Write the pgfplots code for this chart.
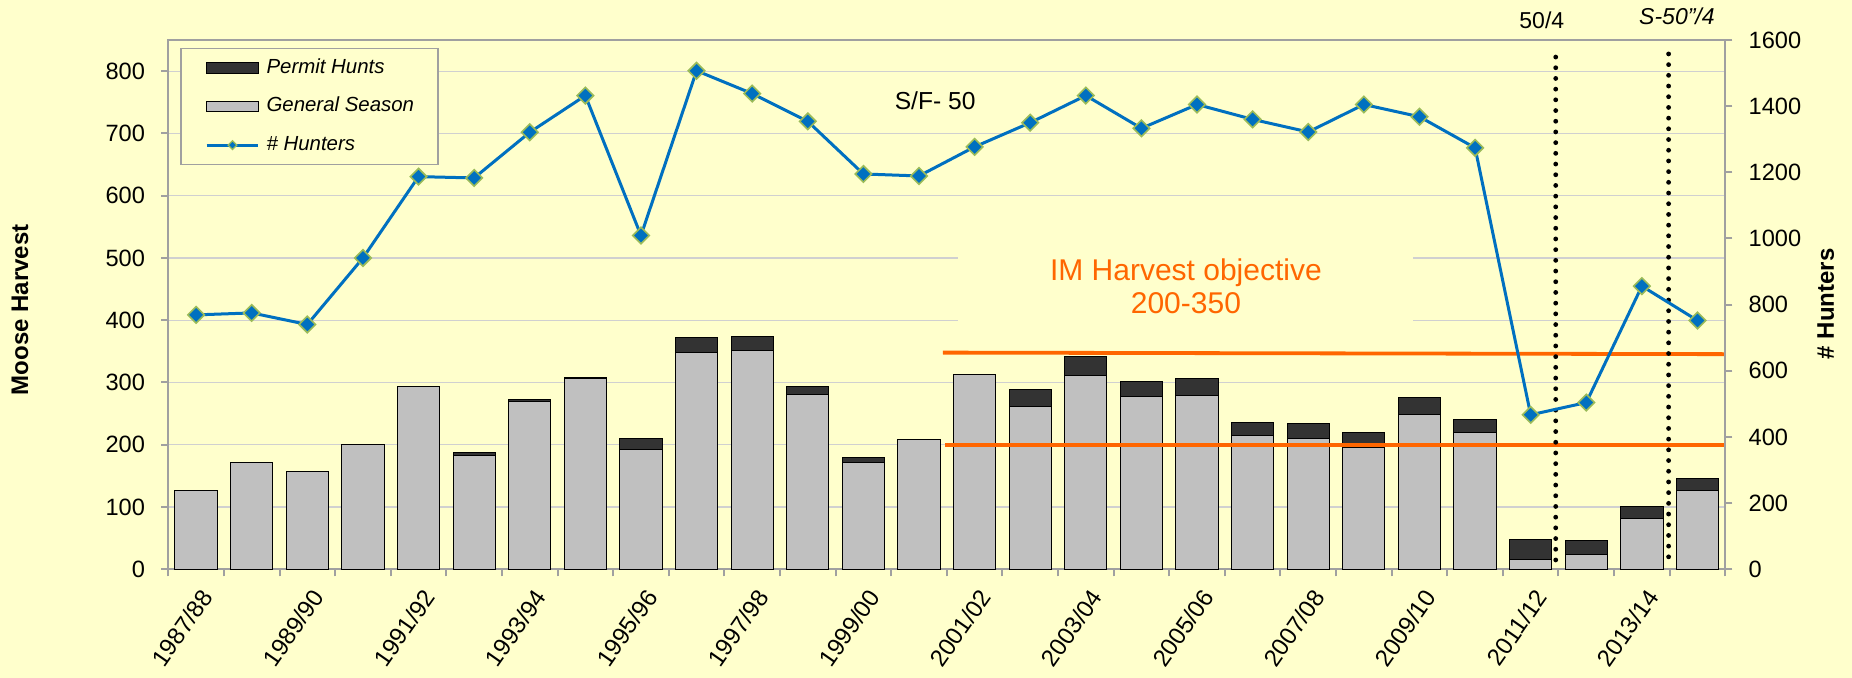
\documentclass[border=0pt]{standalone}
\usepackage{fontspec}
\setmainfont{Liberation Sans}
\usepackage{pgfplots}
\pgfplotsset{compat=1.18}
\usepackage{pgfplotstable}
\definecolor{bgy}{HTML}{FFFFCC}
\definecolor{bargray}{HTML}{C0C0C0}
\definecolor{bardark}{HTML}{333333}
\definecolor{lineblue}{HTML}{0070C0}
\definecolor{mkedge}{HTML}{9BBB59}
\definecolor{objorange}{HTML}{FF6600}
\definecolor{axgray}{HTML}{A0A0A0}
\definecolor{gridgray}{HTML}{D0D0D0}

\pgfplotstableread{
idx general permit hunters
0  127 0  769
1  171 0  775
2  157 0  740
3  201 0  941
4  294 0  1187
5  183 4  1183
6  269 3  1321
7  306 2  1432
8  192 18 1009
9  348 24 1507
10 351 23 1438
11 280 13 1354
12 171 8  1195
13 208 0  1189
14 313 0  1277
15 262 26 1350
16 311 31 1432
17 277 25 1333
18 279 27 1405
19 215 20 1360
20 210 24 1322
21 196 23 1405
22 248 28 1368
23 220 21 1274
24 15  33 467
25 24  22 504
26 82  19 856
27 126 20 752
}\moose

\pgfplotsset{
  common/.style={
    at={(0pt,0pt)}, anchor=south west,
    width=778.5pt, height=264.65pt, scale only axis,
    xmin=-0.5, xmax=27.5,
    /pgf/number format/assume math mode=true,
    /pgf/number format/1000 sep={},
    tick label style={font=\fontsize{11.8}{14}\selectfont, inner sep=0pt},
    yticklabel shift=8pt,
    axis line style={draw=axgray, line width=1pt},
    tick style={draw=axgray, line width=1pt},
    tick align=outside,
    major tick length=3.5pt, minor tick length=3.5pt,
  }
}

\begin{document}
\begin{tikzpicture}
\fill[bgy] (-84.15pt,-54.35pt) rectangle (841.85pt,284.65pt);

% Axis 1: bars, left axis
\begin{axis}[common,
  ymin=0, ymax=850,
  ybar stacked, bar width=0.76,
  xtick={0,2,...,26},
  xticklabels={1987/88,1989/90,1991/92,1993/94,1995/96,1997/98,1999/00,2001/02,2003/04,2005/06,2007/08,2009/10,2011/12,2013/14},
  major x tick style={draw=none},
  minor xtick={-0.5,0.5,...,27.5},
  xtick pos=bottom,
  xticklabel style={font=\fontsize{12}{14}\selectfont, inner sep=0pt, xshift=5.5pt, yshift=-8pt, rotate=55, anchor=east},
  ytick={0,100,...,800},
  ytick pos=left,
  ymajorgrids, grid style={draw=gridgray, line width=0.6pt},
]
\addplot[fill=bargray, draw=black, line width=0.5pt] table[x=idx, y=general] {\moose};
\addplot[fill=bardark, draw=black, line width=0.5pt] table[x=idx, y=permit] {\moose};
\end{axis}

% Axis 3: annotations in harvest units
\begin{axis}[common, ymin=0, ymax=850, axis lines=none, clip=false]
\node[fill=bgy, minimum width=227.5pt, minimum height=40pt, align=center, inner sep=0pt,
      text=objorange, font=\fontsize{15}{16.5}\selectfont] at (axis cs:17.8,455) {IM Harvest objective\\200-350};
\addplot[objorange, line width=1.9pt] coordinates {(13.43,348) (27.5,345.5)};
\addplot[objorange, line width=1.9pt] coordinates {(13.47,199.2) (27.5,199.2)};
\addplot[black, line width=2.4pt, line cap=round, dash pattern=on 0pt off 5.35pt] coordinates {(24.45,15) (24.45,839)};
\addplot[black, line width=2.4pt, line cap=round, dash pattern=on 0pt off 5.35pt] coordinates {(26.48,20) (26.48,829)};
\node[font=\fontsize{12.3}{14}\selectfont] at (axis cs:13.29,752) {S/F- 50};
\node[font=\fontsize{11.5}{14}\selectfont] at (axis cs:24.2,881) {50/4};
\node[font=\itshape\fontsize{11.5}{14}\selectfont] at (axis cs:26.63,888) {S-50"/4};
\end{axis}

% Axis 2: hunters, right axis, legend
\begin{axis}[common,
  ymin=0, ymax=1600,
  axis x line=none, axis y line*=right,
  ytick={0,200,...,1600},
  legend style={at={(axis description cs:0.0077,0.9855)}, anchor=north west,
    draw=axgray, line width=0.8pt, fill=bgy,
    inner xsep=12pt, inner ysep=4.8pt, row sep=9.25pt, column sep=3.35pt,
    nodes={inner sep=0pt, text height=7.5pt, text depth=2.5pt},
    font=\itshape\fontsize{10.2}{12}\selectfont},
  legend cell align=left,
]
\addlegendimage{legend image code/.code={\draw[fill=bardark, draw=black, line width=0.5pt] (0pt,-2.65pt) rectangle (25.9pt,2.65pt);}}
\addlegendentry{Permit Hunts}
\addlegendimage{legend image code/.code={\draw[fill=bargray, draw=black, line width=0.5pt] (0pt,-2.65pt) rectangle (25.9pt,2.65pt);}}
\addlegendentry{General Season}
\addplot[lineblue, line width=1.5pt, mark=square*, mark size=2.9pt,
  mark options={rotate=45, fill=lineblue, draw=mkedge, line width=0.8pt},
  legend image code/.code={\draw[lineblue, line width=1.5pt] (0pt,0pt) -- (25.9pt,0pt);
     \draw[fill=lineblue, draw=mkedge, line width=0.6pt] (12.95pt,-2.2pt) -- (15.15pt,0pt) -- (12.95pt,2.2pt) -- (10.75pt,0pt) -- cycle;}]
  table[x=idx, y=hunters] {\moose};
\addlegendentry{\# Hunters}
\end{axis}

\node[rotate=90, font=\bfseries\fontsize{12}{14}\selectfont] at (-74.2pt,129.7pt) {Moose Harvest};
\node[rotate=90, font=\bfseries\fontsize{12}{14}\selectfont] at (828.7pt,132.7pt) {\# Hunters};

\pgfresetboundingbox
\path (-84.15pt,-54.35pt) rectangle (841.85pt,284.65pt);
\end{tikzpicture}
\end{document}
